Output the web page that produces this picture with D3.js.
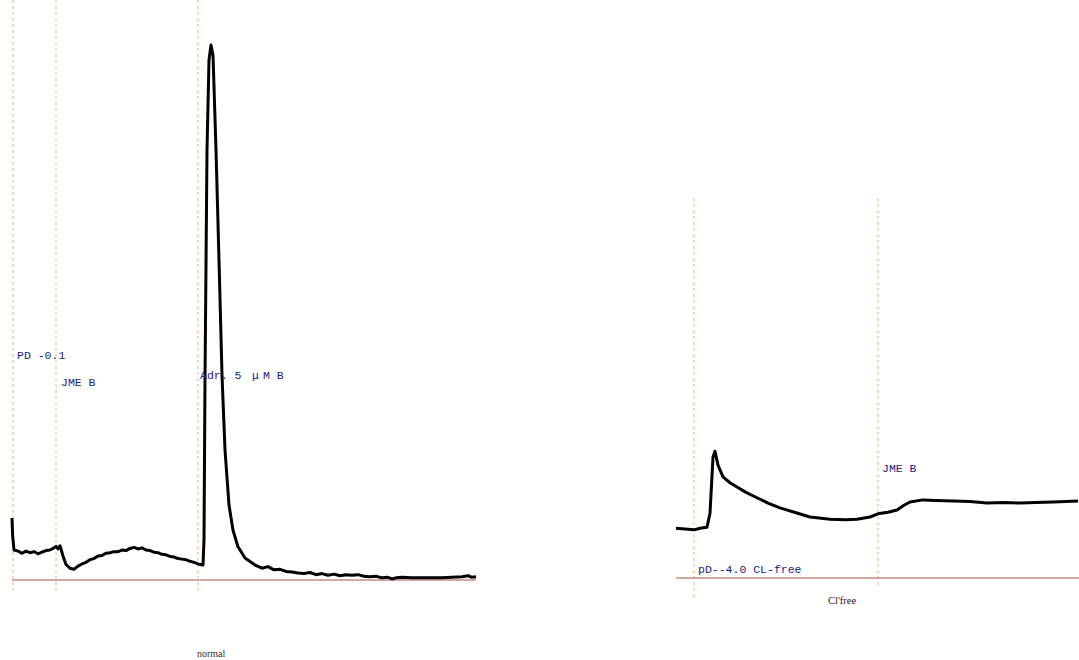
<!DOCTYPE html>
<html>
<head>
<meta charset="utf-8">
<script src="https://cdn.jsdelivr.net/npm/d3@7"></script>
<style>
  html, body { margin: 0; padding: 0; background: #fff; }
  svg { display: block; }
</style>
</head>
<body>
<script>
// left trace: time (s) vs signal, "normal"
const leftTrace = [
  [0, 11.6], [0.3, 8.4], [1, 5.6], [3, 5.4], [5, 5.0], [7, 5.4], [9, 5.1], [11, 5.3],
  [13, 4.9], [15, 5.2], [17, 5.5], [19, 5.6], [21, 6.0], [22, 6.3], [23, 5.8], [24, 6.4],
  [25.5, 4.5], [27, 2.9], [29, 2.2], [31, 2.0], [33, 2.6], [35, 3.0], [37, 3.3], [39, 3.8],
  [41, 4.0], [43, 4.5], [45, 4.6], [47, 5.0], [49, 5.1], [51, 5.3], [53, 5.3], [55, 5.6],
  [57, 5.5], [59, 5.9], [61, 6.1], [63, 5.8], [65, 6.0], [67, 5.6], [69, 5.5], [71, 5.2],
  [73, 5.1], [75, 4.8], [77, 4.7], [79, 4.4], [81, 4.3], [83, 4.0], [85, 3.9], [87, 3.8],
  [89, 3.5], [91, 3.3], [93, 3.0], [95.5, 2.8], [96, 7.5], [96.5, 37.4], [97.5, 80.4],
  [98.5, 97.2], [99.5, 100], [100.5, 98.1], [102, 80.4], [103.5, 59.8], [105, 38.3],
  [106.5, 24.3], [108.5, 14.0], [110.5, 9.3], [113, 6.2], [116.5, 4.1], [121.5, 2.8],
  [125, 2.2], [128, 2.5], [131, 1.9], [134, 2.0], [137, 1.6], [140, 1.5], [143, 1.3],
  [146, 1.2], [149, 1.4], [152, 1.0], [155, 1.2], [158, 0.9], [161, 1.1], [164, 0.8],
  [167, 1.0], [170, 0.9], [173, 1.0], [176, 0.7], [179, 0.6], [182, 0.7], [185, 0.4],
  [188, 0.5], [190, 0.2], [192, 0.4], [195, 0.5], [200, 0.4], [205, 0.4], [210, 0.4],
  [215, 0.4], [220, 0.5], [225, 0.6], [228, 0.8], [230, 0.5], [232, 0.6]
]
// right trace: Cl-free
const rightTrace = [
  [0, 9.3], [3, 9.2], [6, 9.1], [9, 9.0], [12, 9.3], [15.5, 9.5], [17, 12.1], [18.5, 22.6],
  [19.5, 23.7], [21, 21.1], [23.5, 18.9], [27, 17.8], [30.5, 17.0], [35, 16.0], [40.5, 15.0],
  [46, 14.0], [52, 13.1], [60, 12.2], [67, 11.4], [77, 11.0], [85, 10.9], [90.5, 11.0],
  [97, 11.4], [101, 12.0], [106, 12.3], [110.5, 12.7], [114, 13.6], [117, 14.2], [123.5, 14.6],
  [130, 14.5], [138.5, 14.4], [147, 14.3], [155.5, 14.0], [164, 14.1], [172, 14.0],
  [180, 14.1], [188.5, 14.2], [195, 14.3], [201, 14.4]
]

const leftMarkers = [0.5, 22, 93]
const rightMarkers = [9, 101]

const leftLabels = ['PD -0.1', 'JME B', 'Adr. 5 μM B']
const rightLabels = ['JME B', 'pD--4.0 CL-free']
const leftTitle = 'normal'
const rightTitle = "Cl'free"

const W = 1079, H = 660
const svg = d3.select('body').append('svg').attr('width', W).attr('height', H)

const leftX = d3.scaleLinear().domain([0, 232]).range([12, 476])
const leftY = d3.scaleLinear().domain([0, 100]).range([580, 45])
const rightX = d3.scaleLinear().domain([0, 201.5]).range([676, 1079])
const rightY = d3.scaleLinear().domain([0, 100]).range([578, 43])

const markColor = '#f2b27a'
const baseColor = '#c48a8a'
const labelColor = '#23237e'
const monoFont = '"Liberation Mono", "DejaVu Sans Mono", monospace'

const drawPanel = (g, x, y, trace, markers, markTop, markBottoms) => {
  // event markers
  g.selectAll('line.mark').data(markers).join('line')
    .attr('class', 'mark')
    .attr('x1', d => x(d)).attr('x2', d => x(d))
    .attr('y1', markTop)
    .attr('y2', (d, i) => markBottoms[i])
    .attr('stroke', markColor).attr('stroke-width', 1)
    .attr('stroke-dasharray', '3,3')

  // zero baseline
  g.append('line')
    .attr('x1', x.range()[0]).attr('x2', x.range()[1])
    .attr('y1', y(0)).attr('y2', y(0))
    .attr('stroke', baseColor).attr('stroke-width', 1.5)

  const line = d3.line().x(d => x(d[0])).y(d => y(d[1]))
  g.append('path').datum(trace)
    .attr('d', line)
    .attr('fill', 'none')
    .attr('stroke', '#000')
    .attr('stroke-width', 3)
    .attr('stroke-linejoin', 'round')
}

drawPanel(svg.append('g'), leftX, leftY, leftTrace, leftMarkers, 0, [592, 592, 592])
drawPanel(svg.append('g'), rightX, rightY, rightTrace, rightMarkers, 198, [598, 585])

const label = (txt, x, y) => svg.append('text')
  .attr('x', x).attr('y', y)
  .attr('font-family', monoFont).attr('font-size', 11.5)
  .attr('fill', labelColor)
  .style('white-space', 'pre')
  .text(txt)

label(leftLabels[0], 17, 359)
label(leftLabels[1], 61, 386)
// Adr. label: the micro sign is full width in the original bitmap font
const adr = svg.append('text')
  .attr('x', 200).attr('y', 379)
  .attr('font-family', monoFont).attr('font-size', 11.5)
  .attr('fill', labelColor)
  .style('white-space', 'pre')
adr.append('tspan').text(leftLabels[2].slice(0, 7))
adr.append('tspan').attr('x', 252).text(leftLabels[2].slice(7, 8))
adr.append('tspan').attr('x', 263).text(leftLabels[2].slice(8))

label(rightLabels[0], 882, 472)
label(rightLabels[1], 698, 573)

svg.append('text')
  .attr('x', 828).attr('y', 604)
  .attr('font-family', '"Liberation Serif", serif').attr('font-size', 10.5)
  .attr('fill', '#222')
  .text(rightTitle)

svg.append('text')
  .attr('x', 197).attr('y', 657)
  .attr('font-family', '"Liberation Serif", serif').attr('font-size', 10)
  .attr('fill', '#333')
  .text(leftTitle)
</script>
</body>
</html>
